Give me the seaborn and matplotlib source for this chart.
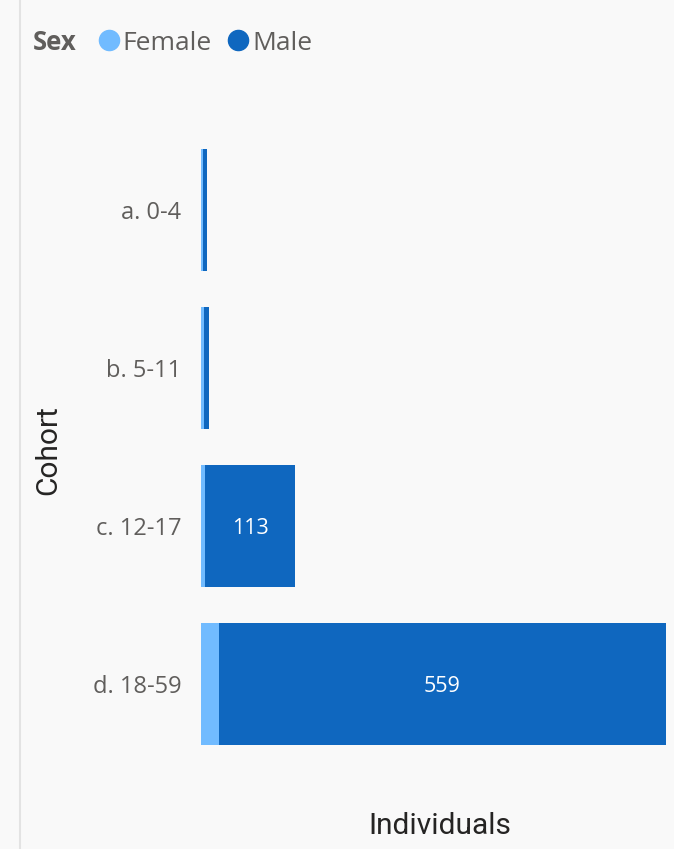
import pandas as pd
import numpy as np
import matplotlib.pyplot as plt
import seaborn as sns
from matplotlib.lines import Line2D

# data
cohorts = ["a. 0-4", "b. 5-11", "c. 12-17", "d. 18-59"]
female = [3, 4, 5, 22]
male = [5, 6, 113, 559]
sexes = ["Female", "Male"]

female_col = "#71BBFF"
male_col = "#0F67BF"
bg = "#F9F9F9"

df = pd.DataFrame({"Cohort": cohorts, "Female": female, "Male": male})
df["Total"] = df["Female"] + df["Male"]

sns.set_style("white")
plt.rcParams["font.family"] = ["Open Sans", "DejaVu Sans"]

W, H = 674, 849
fig = plt.figure(figsize=(W / 100, H / 100), dpi=100, facecolor=bg)
ax = fig.add_axes([201 / W, 1 - 763 / H, 465 / W, 632 / H], facecolor=bg)

# stacked look: total in male colour, female drawn on top from zero
sns.barplot(data=df, x="Total", y="Cohort", color=male_col, width=0.77,
            saturation=1, linewidth=0, ax=ax, orient="h")
sns.barplot(data=df, x="Female", y="Cohort", color=female_col, width=0.77,
            saturation=1, linewidth=0, ax=ax, orient="h")

# labels in the male segment where there is room
for i, row in df.iterrows():
    if row["Male"] > 50:
        ax.text(row["Female"] + row["Male"] / 2, i, str(row["Male"]),
                color="white", ha="center", va="center_baseline", fontsize=15.5)

ax.set_xlim(0, df["Total"].max())
ax.set_ylim(3.5, -0.5)
ax.set_xticks([])
ax.tick_params(axis="y", length=0, pad=14, labelsize=17, labelcolor="#605E5C")
for s in ax.spines.values():
    s.set_visible(False)

ax.set_xlabel("Individuals", fontsize=21.5, color="#252423", family=["Roboto", "DejaVu Sans"])
ax.xaxis.set_label_coords(0.514, (763 - 826) / 632)
ax.xaxis.label.set_va("center")
ax.set_ylabel("Cohort", fontsize=21.5, color="#252423", family=["Roboto", "DejaVu Sans"])
ax.yaxis.set_label_coords((48 - 201) / 465, (763 - 450) / 632)
ax.yaxis.label.set_va("center")

# left border line
fig.add_artist(Line2D([20 / W, 20 / W], [0, 1], color="#E3E3E3", lw=1.5,
                      transform=fig.transFigure))

# legend
ly = 1 - 40 / H
fig.text(33 / W, ly, "Sex", fontsize=18.5, fontweight="bold",
         color="#605E5C", va="center_baseline")
for lab, col, cx, tx in zip(sexes, [female_col, male_col], [109, 238], [122, 252]):
    fig.add_artist(Line2D([cx / W], [ly], marker="o", ls="", markersize=14.5,
                          color=col, transform=fig.transFigure))
    fig.text(tx / W, ly, lab, fontsize=19, color="#605E5C", va="center_baseline")

fig.savefig("out.png", dpi=100, facecolor=bg)
